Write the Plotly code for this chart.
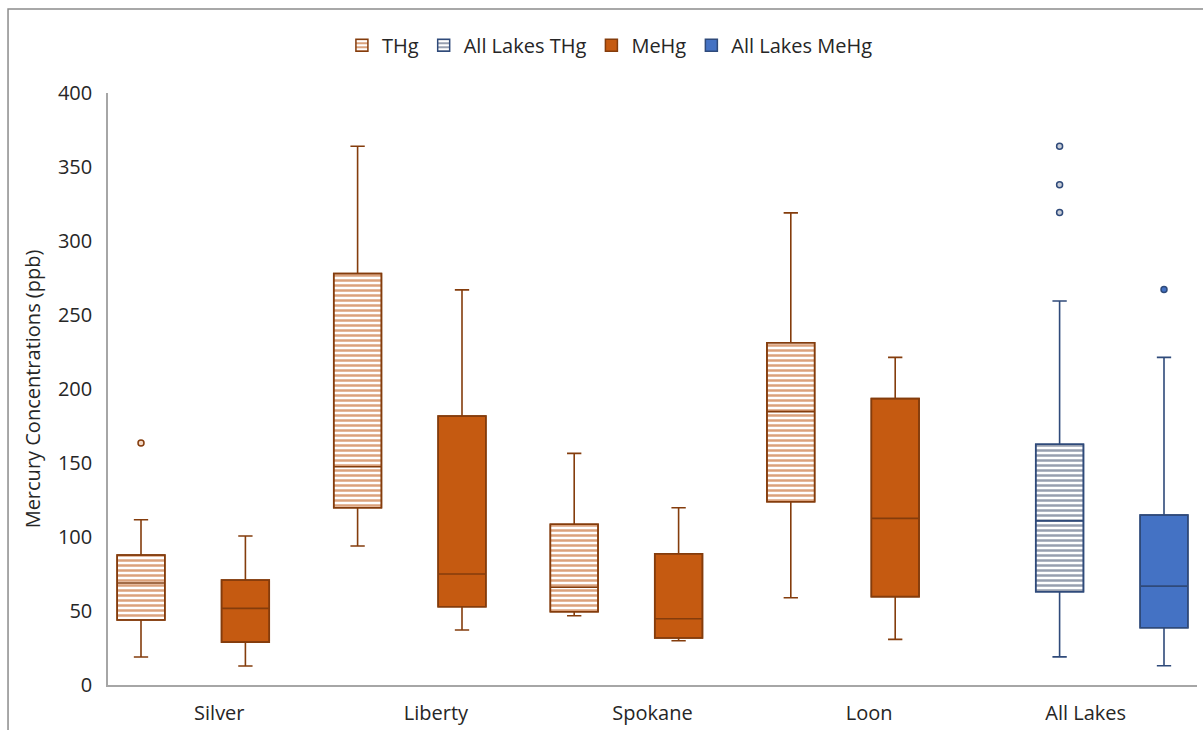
import plotly.graph_objects as go

categories = ["Silver", "Liberty", "Spokane", "Loon", "All Lakes"]
lakes = ["Silver", "Liberty", "Spokane", "Loon"]
all_lakes = ["All Lakes"]

thg_lower = [18.9, 93.9, 46.8, 59.0]
thg_q1 = [43.9, 119.8, 49.5, 123.8]
thg_median = [68.9, 147.5, 66.0, 184.7]
thg_q3 = [87.8, 278.0, 108.6, 231.3]
thg_upper = [111.7, 364.0, 156.5, 319.0]
thg_outliers = [[163.5], [], [], []]

mehg_lower = [12.8, 37.2, 29.9, 30.8]
mehg_q1 = [29.0, 52.9, 31.8, 59.7]
mehg_median = [51.8, 75.0, 44.8, 112.6]
mehg_q3 = [70.9, 181.8, 88.7, 193.5]
mehg_upper = [100.7, 267.0, 119.8, 221.4]
mehg_outliers = [[], [], [], []]

all_thg_lower = [19.0]
all_thg_q1 = [63.0]
all_thg_median = [110.9]
all_thg_q3 = [162.7]
all_thg_upper = [259.5]
all_thg_outliers = [[319.2, 338.0, 364.0]]

all_mehg_lower = [13.0]
all_mehg_q1 = [38.7]
all_mehg_median = [66.8]
all_mehg_q3 = [114.9]
all_mehg_upper = [221.4]
all_mehg_outliers = [[267.2]]

BROWN = "#843C0C"
ORANGE = "#C55A11"
NAVY = "#2F4A7A"
BLUE = "#4472C4"
FONT = "Open Sans"
TXT = "#262626"
FS = 20

series = [
    dict(name="THg", x=lakes, lo=thg_lower, q1=thg_q1, med=thg_median, q3=thg_q3, up=thg_upper,
         out=thg_outliers, line=BROWN, fill="white", pat=dict(shape="-", fgcolor="#DBA27C", size=5, solidity=0.5),
         ptfill="#F3D9C6", grp="1"),
    dict(name="All Lakes THg", x=all_lakes, lo=all_thg_lower, q1=all_thg_q1, med=all_thg_median, q3=all_thg_q3,
         up=all_thg_upper, out=all_thg_outliers, line=NAVY, fill="white",
         pat=dict(shape="-", fgcolor="#979FAF", size=5, solidity=0.5), ptfill="#C9CED8", grp="2"),
    dict(name="MeHg", x=lakes, lo=mehg_lower, q1=mehg_q1, med=mehg_median, q3=mehg_q3, up=mehg_upper,
         out=mehg_outliers, line=BROWN, fill=ORANGE, pat=None, ptfill=ORANGE, grp="3"),
    dict(name="All Lakes MeHg", x=all_lakes, lo=all_mehg_lower, q1=all_mehg_q1, med=all_mehg_median,
         q3=all_mehg_q3, up=all_mehg_upper, out=all_mehg_outliers, line=NAVY, fill=BLUE, pat=None,
         ptfill=BLUE, grp="4"),
]

fig = go.Figure()

for s in series:
    marker = dict(color=s["fill"], line=dict(color=s["line"], width=1.5))
    if s["pat"]:
        marker["pattern"] = dict(s["pat"], bgcolor="white", fillmode="replace")
    fig.add_trace(go.Bar(
        name=s["name"], x=s["x"], y=[b - a for a, b in zip(s["q1"], s["q3"])], base=s["q1"],
        marker=marker, offsetgroup=s["grp"], showlegend=True, hoverinfo="skip",
    ))

for s in series:
    has_out = any(len(o) > 0 for o in s["out"])
    box_kwargs = dict(
        name=s["name"], x=s["x"], q1=s["q1"], median=s["med"], q3=s["q3"],
        lowerfence=s["lo"], upperfence=s["up"], offsetgroup=s["grp"], showlegend=False,
        fillcolor="rgba(0,0,0,0)", line=dict(color=s["line"], width=1.6), whiskerwidth=0.3,
        boxpoints="outliers" if has_out else False, pointpos=0, jitter=0,
        marker=dict(color=s["ptfill"], size=6, line=dict(color=s["line"], width=1.5)),
    )
    if has_out:
        box_kwargs["y"] = s["out"]
    fig.add_trace(go.Box(**box_kwargs))

fig.update_layout(
    width=1203, height=730,
    margin=dict(l=108, r=6, t=93, b=45),
    paper_bgcolor="white", plot_bgcolor="white",
    barmode="group", bargap=0.036, bargroupgap=0.086,
    boxmode="group", boxgap=0.036, boxgroupgap=0.086,
    font=dict(family=FONT, size=FS, color=TXT),
    legend=dict(orientation="h", xref="container", yref="container", x=0.507, y=0.938,
                xanchor="center", yanchor="middle", font=dict(size=FS, color=TXT),
                itemwidth=30, traceorder="normal"),
    shapes=[dict(type="rect", xref="paper", yref="paper", x0=-0.0918, x1=1.3, y0=-0.3, y1=1.1419,
                 line=dict(color="#8C8C8C", width=1.5), fillcolor="rgba(0,0,0,0)", layer="below")],
)

fig.update_xaxes(type="category", categoryorder="array", categoryarray=categories, automargin=False,
                 showline=True, linecolor="#A6A6A6", linewidth=1.5, ticks="", showgrid=False,
                 zeroline=False, tickfont=dict(size=FS, color=TXT), ticklabelstandoff=9)
fig.update_yaxes(range=[0, 400], dtick=50, showline=True, linecolor="#A6A6A6", linewidth=1.5,
                 ticks="", showgrid=False, zeroline=False, tickfont=dict(size=FS, color=TXT),
                 ticklabelstandoff=10, automargin=False,
                 title=dict(text="Mercury Concentrations (ppb)", font=dict(size=FS, color=TXT), standoff=12))

fig.write_html("out.html")
